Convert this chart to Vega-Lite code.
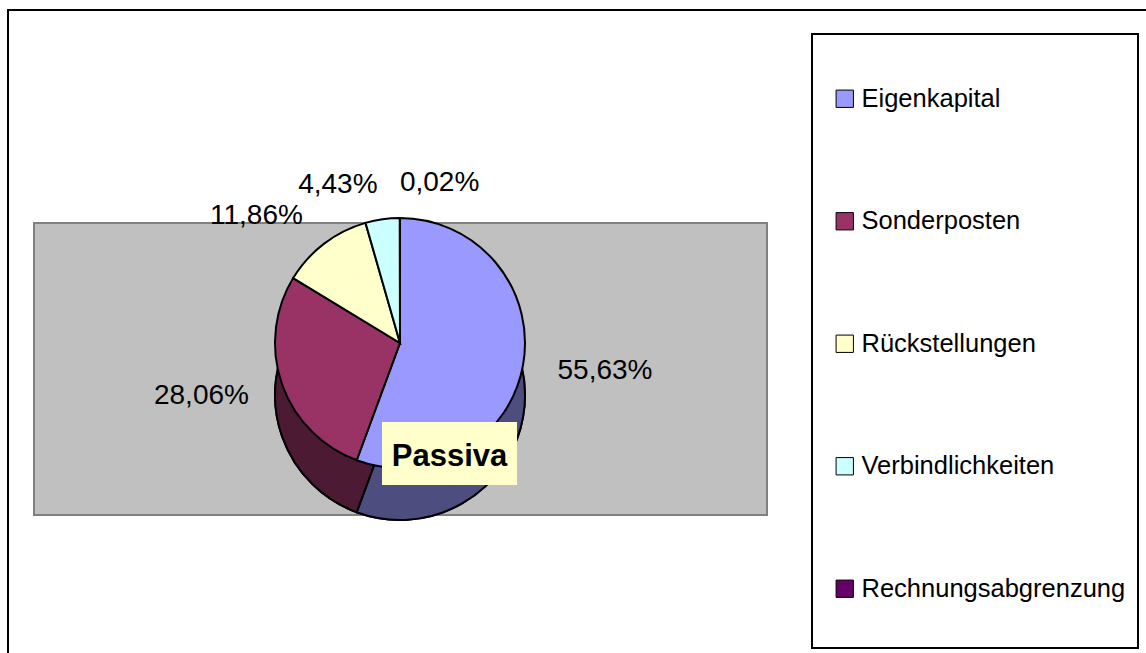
{
  "$schema": "https://vega.github.io/schema/vega-lite/v6.json",
  "width": 1146,
  "height": 653,
  "padding": 0,
  "autosize": {"type": "none"},
  "background": "white",
  "config": {"view": {"stroke": null}, "font": "Liberation Sans"},
  "datasets": {
    "passiva": [
      {"category": "Eigenkapital", "share": 55.63, "label": "55,63%", "order": 1},
      {"category": "Sonderposten", "share": 28.06, "label": "28,06%", "order": 2},
      {"category": "Rückstellungen", "share": 11.86, "label": "11,86%", "order": 3},
      {"category": "Verbindlichkeiten", "share": 4.43, "label": "4,43%", "order": 4},
      {"category": "Rechnungsabgrenzung", "share": 0.02, "label": "0,02%", "order": 5}
    ],
    "one": [{"k": 1}]
  },
  "layer": [
    {
      "data": {"name": "one"},
      "mark": {"type": "rect", "fill": null, "stroke": "black", "strokeWidth": 2},
      "encoding": {
        "x": {"datum": 8, "type": "quantitative", "scale": {"domain": [0, 1146], "nice": false, "zero": false}, "axis": null},
        "x2": {"datum": 1200},
        "y": {"datum": 10, "type": "quantitative", "scale": {"domain": [0, 653], "nice": false, "zero": false, "reverse": true}, "axis": null},
        "y2": {"datum": 700}
      }
    },
    {
      "data": {"name": "one"},
      "mark": {"type": "rect", "fill": "#C0C0C0", "stroke": "#808080", "strokeWidth": 2},
      "encoding": {
        "x": {"datum": 34, "type": "quantitative", "scale": {"domain": [0, 1146], "nice": false, "zero": false}, "axis": null},
        "x2": {"datum": 767},
        "y": {"datum": 223, "type": "quantitative", "scale": {"domain": [0, 653], "nice": false, "zero": false, "reverse": true}, "axis": null},
        "y2": {"datum": 515}
      }
    },
    {
      "data": {"name": "one"},
      "mark": {"type": "rect", "fill": "white", "stroke": "black", "strokeWidth": 2},
      "encoding": {
        "x": {"datum": 812, "type": "quantitative", "scale": {"domain": [0, 1146], "nice": false, "zero": false}, "axis": null},
        "x2": {"datum": 1138},
        "y": {"datum": 34, "type": "quantitative", "scale": {"domain": [0, 653], "nice": false, "zero": false, "reverse": true}, "axis": null},
        "y2": {"datum": 648}
      }
    },
    {
      "data": {"name": "passiva"},
      "mark": {"type": "arc", "radius": 125, "fill": "black", "stroke": "black", "strokeWidth": 2},
      "encoding": {
        "x": {"datum": 400, "type": "quantitative", "scale": {"domain": [0, 1146], "nice": false, "zero": false}, "axis": null},
        "y": {"datum": 395, "type": "quantitative", "scale": {"domain": [0, 653], "nice": false, "zero": false, "reverse": true}, "axis": null},
        "theta": {"field": "share", "type": "quantitative", "stack": true},
        "order": {"field": "order"}
      }
    },
    {
      "data": {"name": "passiva"},
      "mark": {"type": "arc", "radius": 125, "fillOpacity": 0.5, "stroke": "black", "strokeWidth": 2},
      "encoding": {
        "x": {"datum": 400, "type": "quantitative", "scale": {"domain": [0, 1146], "nice": false, "zero": false}, "axis": null},
        "y": {"datum": 395, "type": "quantitative", "scale": {"domain": [0, 653], "nice": false, "zero": false, "reverse": true}, "axis": null},
        "theta": {"field": "share", "type": "quantitative", "stack": true},
        "order": {"field": "order"},
        "color": {
          "field": "category", "type": "nominal",
          "scale": {"domain": ["Eigenkapital", "Sonderposten", "Rückstellungen", "Verbindlichkeiten", "Rechnungsabgrenzung"], "range": ["#9999FF", "#993366", "#FFFFCC", "#CCFFFF", "#660066"]},
          "legend": {
            "orient": "none", "legendX": 832, "legendY": 86, "title": null,
            "symbolType": "square", "symbolSize": 300, "symbolStrokeColor": "black", "symbolStrokeWidth": 1, "symbolOpacity": 1, "symbolFillOpacity": 1,
            "labelFont": "Liberation Sans", "labelFontSize": 25.5, "labelColor": "black", "labelOffset": 4, "labelLimit": 400,
            "rowPadding": 95.5, "padding": 0
          }
        }
      }
    },
    {
      "data": {"name": "passiva"},
      "mark": {"type": "arc", "radius": 125, "stroke": "black", "strokeWidth": 2, "opacity": 1},
      "encoding": {
        "x": {"datum": 400, "type": "quantitative", "scale": {"domain": [0, 1146], "nice": false, "zero": false}, "axis": null},
        "y": {"datum": 343, "type": "quantitative", "scale": {"domain": [0, 653], "nice": false, "zero": false, "reverse": true}, "axis": null},
        "theta": {"field": "share", "type": "quantitative", "stack": true},
        "order": {"field": "order"},
        "color": {
          "field": "category", "type": "nominal",
          "scale": {"domain": ["Eigenkapital", "Sonderposten", "Rückstellungen", "Verbindlichkeiten", "Rechnungsabgrenzung"], "range": ["#9999FF", "#993366", "#FFFFCC", "#CCFFFF", "#660066"]},
          "legend": {
            "orient": "none", "legendX": 832, "legendY": 86, "title": null,
            "symbolType": "square", "symbolSize": 300, "symbolStrokeColor": "black", "symbolStrokeWidth": 1, "symbolOpacity": 1, "symbolFillOpacity": 1,
            "labelFont": "Liberation Sans", "labelFontSize": 25.5, "labelColor": "black", "labelOffset": 4, "labelLimit": 400,
            "rowPadding": 95.5, "padding": 0
          }
        }
      }
    },
    {
      "data": {"name": "passiva"},
      "mark": {"type": "text", "radius": 160, "align": "left", "baseline": "middle", "fontSize": 28, "font": "Liberation Sans", "color": "black"},
      "encoding": {
        "x": {"datum": 400, "type": "quantitative", "scale": {"domain": [0, 1146], "nice": false, "zero": false}, "axis": null},
        "y": {"datum": 343, "type": "quantitative", "scale": {"domain": [0, 653], "nice": false, "zero": false, "reverse": true}, "axis": null},
        "theta": {"field": "share", "type": "quantitative", "stack": true},
        "order": {"field": "order"},
        "text": {"condition": {"test": "datum.category === 'Eigenkapital' || datum.category === 'Rechnungsabgrenzung'", "field": "label"}, "value": ""}
      }
    },
    {
      "data": {"name": "passiva"},
      "mark": {"type": "text", "radius": 160, "align": "right", "baseline": "middle", "fontSize": 28, "font": "Liberation Sans", "color": "black"},
      "encoding": {
        "x": {"datum": 400, "type": "quantitative", "scale": {"domain": [0, 1146], "nice": false, "zero": false}, "axis": null},
        "y": {"datum": 343, "type": "quantitative", "scale": {"domain": [0, 653], "nice": false, "zero": false, "reverse": true}, "axis": null},
        "theta": {"field": "share", "type": "quantitative", "stack": true},
        "order": {"field": "order"},
        "text": {"condition": {"test": "datum.category !== 'Eigenkapital' && datum.category !== 'Rechnungsabgrenzung'", "field": "label"}, "value": ""}
      }
    },
    {
      "data": {"name": "one"},
      "mark": {"type": "rect", "fill": "#FFFFCC", "stroke": null},
      "encoding": {
        "x": {"datum": 382, "type": "quantitative", "scale": {"domain": [0, 1146], "nice": false, "zero": false}, "axis": null},
        "x2": {"datum": 517},
        "y": {"datum": 422, "type": "quantitative", "scale": {"domain": [0, 653], "nice": false, "zero": false, "reverse": true}, "axis": null},
        "y2": {"datum": 485}
      }
    },
    {
      "data": {"name": "one"},
      "mark": {"type": "text", "text": "Passiva", "align": "center", "baseline": "alphabetic", "fontSize": 31, "fontWeight": "bold", "font": "Liberation Sans", "color": "black"},
      "encoding": {
        "x": {"datum": 449.5, "type": "quantitative", "scale": {"domain": [0, 1146], "nice": false, "zero": false}, "axis": null},
        "y": {"datum": 466, "type": "quantitative", "scale": {"domain": [0, 653], "nice": false, "zero": false, "reverse": true}, "axis": null}
      }
    }
  ]
}
